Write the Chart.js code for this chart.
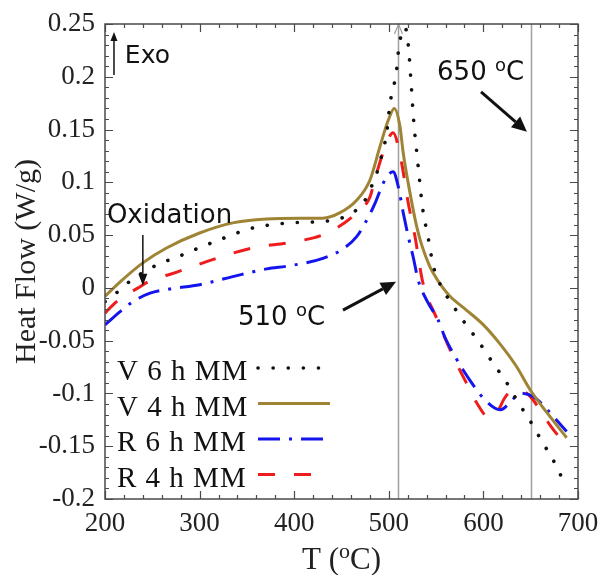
<!DOCTYPE html>
<html>
<head>
<meta charset="utf-8">
<script src="https://cdn.jsdelivr.net/npm/chart.js@4.4.1/dist/chart.umd.min.js"></script>
<style>
  html, body { margin: 0; padding: 0; background: #fff; }
  #dsc { display: block; }
</style>
</head>
<body>
<canvas id="dsc" width="601" height="575"></canvas>
<script>
// DSC heat flow of the milled powders (exo up)

const xTicks = [200, 300, 400, 500, 600, 700];
const yTicks = [0.25, 0.2, 0.15, 0.1, 0.05, 0, -0.05, -0.1, -0.15, -0.2];
const xMinorStep = 20;
const yMinorStep = 0.01;
const markerTemps = [510, 650];

const seriesNames = ['V 6 h MM', 'V 4 h MM', 'R 6 h MM', 'R 4 h MM'];

// V 6 h MM
const v6Temp = [200, 213, 226, 251, 281, 297, 325, 353, 387, 430, 446, 461, 473, 480, 486, 490.7, 497.7, 501.3, 505, 508, 511, 515.3, 517,
  520.6, 523.5, 526.6, 529.5, 532.3, 535.7, 541.7, 547, 552, 559.4, 568, 577, 586, 595, 604, 613, 622, 630, 637.6, 646.8, 654.5, 663, 670.4, 677.8, 685];
const v6Flow = [-0.013, -0.004, 0.006, 0.020, 0.031, 0.037, 0.047, 0.056, 0.061, 0.063, 0.065, 0.071, 0.080, 0.093, 0.105, 0.1196, 0.1465, 0.175, 0.190, 0.205, 0.2307, 0.2436, 0.247,
  0.230, 0.195, 0.155, 0.129, 0.104, 0.076, 0.047, 0.021, 0.008, -0.005, -0.017, -0.029, -0.040, -0.051, -0.063, -0.075, -0.086, -0.098, -0.110, -0.122, -0.134, -0.147, -0.158, -0.170, -0.184];

// V 4 h MM
const v4Temp = [200, 216, 240, 265.5, 300, 335, 371, 406, 430, 448, 466, 480, 490.7, 499.5, 505.8, 511.8, 515.3, 522.4, 529.5, 535, 543.5, 549, 554,
  564.7, 582, 600, 617.5, 635, 649, 667, 688];
const v4Flow = [-0.008, 0.0057, 0.0237, 0.038, 0.052, 0.0616, 0.0653, 0.066, 0.066, 0.071, 0.083, 0.102, 0.134, 0.159, 0.170, 0.153, 0.1275, 0.09, 0.058, 0.040, 0.020, 0.011, 0.004,
  -0.008, -0.021, -0.035, -0.053, -0.0745, -0.096, -0.118, -0.142];

// R 6 h MM
const r6Temp = [200, 216, 229.6, 247.6, 268.7, 300, 335, 371, 395.5, 430.4, 450, 466, 476.6, 485.4, 492.5, 497.7, 504.5, 510, 515.3, 520.6, 525.6, 531,
  541.4, 552, 559.4, 570, 578.4, 587.6, 600, 612.3, 618, 628.7, 638.7, 652.8, 663, 674, 688];
const r6Flow = [-0.035, -0.0224, -0.013, -0.005, -0.001, 0.003, 0.0107, 0.018, 0.021, 0.028, 0.036, 0.0486, 0.064, 0.080, 0.096, 0.105, 0.110, 0.096, 0.071, 0.0486, 0.030, 0.0076,
  -0.014, -0.030, -0.047, -0.065, -0.0776, -0.090, -0.1045, -0.114, -0.1155, -0.108, -0.0997, -0.103, -0.111, -0.122, -0.136];

// R 4 h MM
const r4Temp = [200, 208.5, 220, 235, 244, 276, 318, 356.5, 399, 435, 466, 480, 485, 494, 504.5, 513.6, 520, 527.7, 536, 550.6, 568, 582, 593,
  605, 612, 616, 622, 630, 639, 647.5, 663, 670.4, 688];
const r4Flow = [-0.024, -0.016, -0.008, 0.000, 0.005, 0.015, 0.028, 0.038, 0.0435, 0.052, 0.071, 0.086, 0.102, 0.128, 0.147, 0.118, 0.083, 0.0486, 0.005, -0.0287, -0.065, -0.090, -0.109,
  -0.122, -0.120, -0.1155, -0.105, -0.098, -0.098, -0.101, -0.120, -0.130, -0.150];

const serif = "'Liberation Serif', 'Times New Roman', serif";
const sans = "'DejaVu Sans', sans-serif";
const frameColor = '#4a4a4a';

function pts(temp, flow) {
  return temp.map((t, i) => ({ x: t, y: flow[i] }));
}

function arrow(ctx, x1, y1, x2, y2, lw, head, half) {
  const a = Math.atan2(y2 - y1, x2 - x1);
  const bx = x2 - head * Math.cos(a), by = y2 - head * Math.sin(a);
  ctx.lineWidth = lw;
  ctx.beginPath(); ctx.moveTo(x1, y1); ctx.lineTo(bx, by); ctx.stroke();
  ctx.beginPath();
  ctx.moveTo(x2, y2);
  ctx.lineTo(bx + half * Math.sin(a), by - half * Math.cos(a));
  ctx.lineTo(bx - half * Math.sin(a), by + half * Math.cos(a));
  ctx.closePath(); ctx.fill();
}

// "before" + superscript o + "after"
const supScale = 0.7;
function degWidth(ctx, before, after, size, family) {
  ctx.font = size + 'px ' + family;
  let w = ctx.measureText(before).width + ctx.measureText(after).width;
  ctx.font = Math.round(size * supScale) + 'px ' + family;
  return w + ctx.measureText('o').width;
}
function degText(ctx, x, y, before, after, size, family) {
  ctx.textAlign = 'left'; ctx.textBaseline = 'alphabetic';
  ctx.font = size + 'px ' + family;
  ctx.fillText(before, x, y);
  x += ctx.measureText(before).width;
  ctx.font = Math.round(size * supScale) + 'px ' + family;
  ctx.fillText('o', x, y - size * 0.34);
  x += ctx.measureText('o').width;
  ctx.font = size + 'px ' + family;
  ctx.fillText(after, x, y);
}

const decor = {
  id: 'decor',
  beforeDatasetsDraw(chart) {
    const ctx = chart.ctx, xs = chart.scales.x;
    const { top, bottom } = chart.chartArea;
    ctx.save();
    ctx.strokeStyle = '#a0a0a0';
    ctx.lineWidth = 1.5;
    markerTemps.forEach(t => {
      const px = Math.round(xs.getPixelForValue(t)) + 0.5;
      ctx.beginPath(); ctx.moveTo(px, top); ctx.lineTo(px, bottom); ctx.stroke();
    });
    // small open head on top of the 510 line
    const hx = Math.round(xs.getPixelForValue(markerTemps[0])) + 0.5;
    ctx.lineWidth = 1.2;
    ctx.beginPath();
    ctx.moveTo(hx - 4, top + 10); ctx.lineTo(hx, top); ctx.lineTo(hx + 4, top + 10);
    ctx.stroke();
    ctx.restore();
  },
  afterDatasetsDraw(chart) {
    const ctx = chart.ctx, xs = chart.scales.x, ys = chart.scales.y;
    const { left, right, top, bottom } = chart.chartArea;
    const X = v => xs.getPixelForValue(v), Y = v => ys.getPixelForValue(v);
    ctx.save();

    // frame with inward ticks on all four sides
    ctx.strokeStyle = frameColor;
    ctx.lineWidth = 1.5;
    ctx.strokeRect(left, top, right - left, bottom - top);
    ctx.lineWidth = 1.2;
    ctx.beginPath();
    for (let t = xTicks[0]; t <= xTicks[xTicks.length - 1]; t += xMinorStep) {
      const px = Math.round(X(t)) + 0.5;
      const len = (t - xTicks[0]) % 100 === 0 ? 8 : 4;
      ctx.moveTo(px, bottom); ctx.lineTo(px, bottom - len);
      ctx.moveTo(px, top); ctx.lineTo(px, top + len);
    }
    const nMinor = Math.round((yTicks[0] - yTicks[yTicks.length - 1]) / yMinorStep);
    for (let i = 0; i <= nMinor; i++) {
      const v = yTicks[yTicks.length - 1] + i * yMinorStep;
      const py = Math.round(Y(v)) + 0.5;
      const len = i % 5 === 0 ? 8 : 4;
      ctx.moveTo(left, py); ctx.lineTo(left + len, py);
      ctx.moveTo(right, py); ctx.lineTo(right - len, py);
    }
    ctx.stroke();

    // axis titles
    ctx.fillStyle = '#222';
    ctx.save();
    ctx.translate(27, (top + bottom) / 2);
    ctx.rotate(-Math.PI / 2);
    ctx.font = '30px ' + serif;
    ctx.textAlign = 'center'; ctx.textBaseline = 'middle';
    ctx.fillText('Heat Flow (W/g)', 0, 0);
    ctx.restore();
    const tw = degWidth(ctx, 'T (', 'C)', 31, serif);
    degText(ctx, (left + right) / 2 - tw / 2, 569, 'T (', 'C)', 31, serif);

    // annotations
    ctx.fillStyle = '#111';
    ctx.strokeStyle = '#111';
    ctx.textAlign = 'left'; ctx.textBaseline = 'alphabetic';
    ctx.font = '25px ' + sans;
    ctx.fillText('Exo', X(221), Y(0.213));
    arrow(ctx, X(209.5), Y(0.2017), X(209.5), Y(0.2425), 1.5, 9, 3.5);
    ctx.font = '26px ' + sans;
    ctx.fillText('Oxidation', X(202), Y(0.0616));
    arrow(ctx, X(240), Y(0.050), X(240), Y(0.002), 1.5, 12, 4.5);
    degText(ctx, X(340.6), Y(-0.035), '510 ', 'C', 26, sans);
    arrow(ctx, X(451.6), Y(-0.021), X(507.6), Y(0.0057), 3, 15, 7);
    degText(ctx, X(551), Y(0.197), '650 ', 'C', 26, sans);
    arrow(ctx, X(597.5), Y(0.1856), X(646), Y(0.148), 3, 15, 7);

    // legend: label then line sample
    const legX = left + 12, sampleX0 = left + 153, sampleX1 = left + 225;
    chart.data.datasets.forEach((ds, i) => {
      const base = bottom - 119 + i * 35.5;
      ctx.fillStyle = '#111';
      ctx.font = '29px ' + serif;
      ctx.letterSpacing = '1px';
      ctx.fillText(ds.label, legX, base);
      ctx.letterSpacing = '0px';
      ctx.save();
      ctx.strokeStyle = ds.borderColor;
      ctx.lineWidth = ds.borderWidth;
      ctx.lineCap = ds.borderCapStyle || 'butt';
      ctx.setLineDash(ds.borderDash || []);
      ctx.beginPath();
      ctx.moveTo(sampleX0, base - 12); ctx.lineTo(sampleX1, base - 12);
      ctx.stroke();
      ctx.restore();
    });
    ctx.restore();
  }
};

const commonLine = { pointRadius: 0, cubicInterpolationMode: 'monotone', clip: 0, fill: false };

new Chart(document.getElementById('dsc'), {
  type: 'line',
  data: {
    datasets: [
      { ...commonLine, label: seriesNames[0], data: pts(v6Temp, v6Flow), borderColor: '#111', borderWidth: 3.6,
        borderDash: [0.1, 15], borderCapStyle: 'round' },
      { ...commonLine, label: seriesNames[1], data: pts(v4Temp, v4Flow), borderColor: '#9e8434', borderWidth: 3 },
      { ...commonLine, label: seriesNames[2], data: pts(r6Temp, r6Flow), borderColor: '#1414ee', borderWidth: 3,
        borderDash: [22, 9, 3, 9] },
      { ...commonLine, label: seriesNames[3], data: pts(r4Temp, r4Flow), borderColor: '#ee1c1c', borderWidth: 3,
        borderDash: [17, 19] }
    ]
  },
  options: {
    responsive: false,
    animation: false,
    devicePixelRatio: 1,
    layout: { padding: { left: 0, right: 23, top: 24, bottom: 0 } },
    plugins: { legend: { display: false }, tooltip: { enabled: false } },
    scales: {
      x: {
        type: 'linear', min: xTicks[0], max: xTicks[xTicks.length - 1],
        grid: { display: false, drawTicks: false },
        border: { display: false },
        afterBuildTicks: s => { s.ticks = xTicks.map(v => ({ value: v })); },
        afterFit: s => { s.height = 76; s.paddingLeft = 0; s.paddingRight = 0; },
        ticks: { padding: 9, color: '#222', font: { family: serif, size: 27 }, maxRotation: 0 }
      },
      y: {
        type: 'linear', min: yTicks[yTicks.length - 1], max: yTicks[0],
        grid: { display: false, drawTicks: false },
        border: { display: false },
        afterBuildTicks: s => { s.ticks = yTicks.map(v => ({ value: v })); },
        afterFit: s => { s.width = 105; s.paddingTop = 0; s.paddingBottom = 0; },
        ticks: { padding: 10, color: '#222', font: { family: serif, size: 27 },
          callback: v => String(+v.toFixed(2)) }
      }
    }
  },
  plugins: [decor]
});
</script>
</body>
</html>
